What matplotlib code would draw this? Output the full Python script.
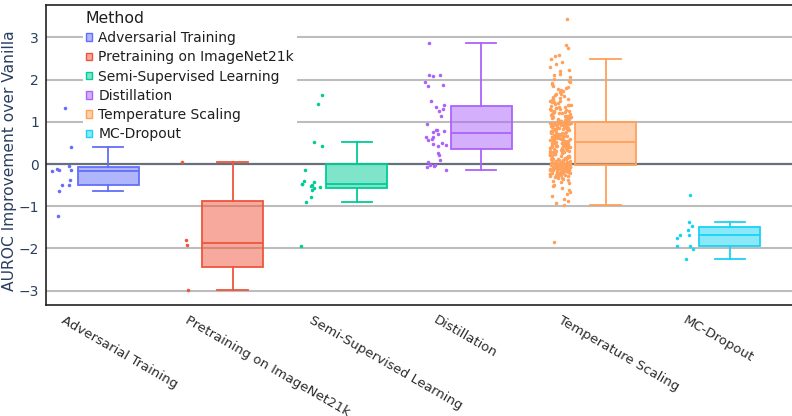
import numpy as np
import matplotlib
matplotlib.use("Agg")
import matplotlib.pyplot as plt
from matplotlib.patches import Patch
from matplotlib.colors import to_rgba
from matplotlib.transforms import ScaledTranslation

methods = [
    "Adversarial Training",
    "Pretraining on ImageNet21k",
    "Semi-Supervised Learning",
    "Distillation",
    "Temperature Scaling",
    "MC-Dropout",
]
colors = ["#636EFA", "#EF553B", "#00CC96", "#AB63FA", "#FFA15A", "#19D3F3"]

adversarial_training = [1.32, 0.40, -0.04, -0.12, -0.13, -0.15, -0.17,
                        -0.38, -0.49, -0.49, -0.65, -1.24]
pretraining_in21k = [0.055, -1.81, -1.91, -2.99]
semi_supervised = [1.63, 1.42, 0.52, 0.43, -0.13, -0.40, -0.43, -0.47, -0.47,
                   -0.49, -0.52, -0.54, -0.56, -0.61, -0.79, -0.89, -1.94]
distillation = [2.86, 2.12, 2.10, 2.09, 1.95, 1.88, 1.85, 1.49, 1.41, 1.35,
                1.30, 1.26, 1.14, 0.94, 0.80, 0.80, 0.79, 0.76, 0.72, 0.65,
                0.63, 0.59, 0.58, 0.49, 0.48, 0.45, 0.44, 0.26, 0.21, 0.09,
                0.05, -0.02, -0.02, -0.04, -0.06, -0.15]
temperature_scaling = [
    -1.84, -0.96, -0.93, -0.88, -0.82, -0.76, -0.71, -0.66, -0.61, -0.57,
    -0.53, -0.49, -0.46, -0.43, -0.41, -0.38, -0.36, -0.34, -0.33, -0.31,
    -0.30, -0.29, -0.28, -0.27, -0.26, -0.26, -0.25, -0.24, -0.23, -0.23,
    -0.22, -0.21, -0.21, -0.20, -0.19, -0.19, -0.18, -0.18, -0.17, -0.17,
    -0.16, -0.16, -0.15, -0.15, -0.14, -0.14, -0.13, -0.13, -0.12, -0.12,
    -0.11, -0.11, -0.11, -0.10, -0.10, -0.10, -0.09, -0.09, -0.09, -0.08,
    -0.08, -0.08, -0.07, -0.07, -0.07, -0.06, -0.06, -0.06, -0.05, -0.05,
    -0.05, -0.05, -0.04, -0.04, -0.04, -0.04, -0.03, -0.03, -0.03, -0.03,
    -0.03, -0.02, -0.02, -0.01, -0.01, 0.00, 0.00, 0.01, 0.01, 0.02,
    0.02, 0.03, 0.03, 0.04, 0.04, 0.05, 0.05, 0.06, 0.07, 0.07,
    0.08, 0.09, 0.09, 0.10, 0.11, 0.12, 0.12, 0.13, 0.14, 0.15,
    0.16, 0.16, 0.17, 0.18, 0.19, 0.20, 0.21, 0.21, 0.22, 0.23,
    0.24, 0.25, 0.26, 0.27, 0.27, 0.28, 0.29, 0.30, 0.31, 0.32,
    0.33, 0.33, 0.34, 0.35, 0.36, 0.37, 0.38, 0.39, 0.40, 0.40,
    0.41, 0.42, 0.43, 0.43, 0.44, 0.45, 0.45, 0.46, 0.47, 0.47,
    0.48, 0.48, 0.49, 0.49, 0.50, 0.50, 0.51, 0.51, 0.51, 0.52,
    0.52, 0.53, 0.54, 0.55, 0.55, 0.56, 0.57, 0.58, 0.58, 0.59,
    0.60, 0.61, 0.61, 0.62, 0.63, 0.64, 0.64, 0.65, 0.66, 0.67,
    0.67, 0.68, 0.69, 0.70, 0.70, 0.71, 0.72, 0.73, 0.73, 0.74,
    0.75, 0.76, 0.76, 0.77, 0.78, 0.79, 0.79, 0.80, 0.81, 0.82,
    0.82, 0.83, 0.84, 0.85, 0.85, 0.86, 0.87, 0.87, 0.88, 0.89,
    0.89, 0.90, 0.91, 0.91, 0.92, 0.93, 0.93, 0.94, 0.94, 0.95,
    0.95, 0.95, 0.96, 0.96, 0.96, 0.97, 0.97, 0.97, 0.97, 0.98,
    0.98, 0.98, 0.98, 0.98, 0.98, 0.98, 0.98, 0.98, 0.98, 0.98,
    1.00, 1.01, 1.02, 1.03, 1.04, 1.05, 1.06, 1.07, 1.08, 1.09,
    1.10, 1.11, 1.12, 1.13, 1.14, 1.15, 1.16, 1.17, 1.18, 1.19,
    1.20, 1.21, 1.22, 1.23, 1.24, 1.25, 1.26, 1.27, 1.28, 1.30,
    1.31, 1.32, 1.33, 1.35, 1.36, 1.37, 1.39, 1.40, 1.41, 1.43,
    1.44, 1.46, 1.47, 1.49, 1.50, 1.52, 1.54, 1.55, 1.57, 1.59,
    1.61, 1.63, 1.65, 1.67, 1.70, 1.72, 1.75, 1.78, 1.80, 1.83,
    1.86, 1.89, 1.92, 1.95, 1.98, 2.02, 2.06, 2.10, 2.14, 2.20,
    2.24, 2.30, 2.36, 2.43, 2.50, 2.57, 2.59, 2.75, 2.83, 3.43,
]
mc_dropout = [-0.74, -1.37, -1.47, -1.56, -1.67, -1.67, -1.75, -1.94,
              -1.95, -2.01, -2.25]

y_ticks = [-3, -2, -1, 0, 1, 2, 3]
y_label = "AUROC Improvement over Vanilla"
legend_title = "Method"

series = [adversarial_training, pretraining_in21k, semi_supervised,
          distillation, temperature_scaling, mc_dropout]

TEXT = "#2a3f5f"


def box_stats(values):
    v = np.sort(np.asarray(values, dtype=float))
    q1, med, q3 = np.percentile(v, [25, 50, 75], method="hazen")
    iqr = q3 - q1
    lo_fence, hi_fence = q1 - 1.5 * iqr, q3 + 1.5 * iqr
    whislo = v[v >= lo_fence].min()
    whishi = v[v <= hi_fence].max()
    return dict(q1=q1, med=med, q3=q3, whislo=whislo, whishi=whishi,
                fliers=np.array([]))


fig = plt.figure(figsize=(7.92, 4.16), dpi=100)
ax = fig.add_axes([46 / 792, 1 - 305 / 416, 746 / 792, 300 / 416])

ax.set_xlim(-0.5, 5.5)
ax.set_ylim(-3.34, 3.77)

# horizontal grid + emphasised zero line
for t in y_ticks:
    if t == 0:
        ax.axhline(0, color="#66707f", lw=1.6, zorder=0.6)
    else:
        ax.axhline(t, color="#bdbdbd", lw=1.5, zorder=0.5)

rng = np.random.default_rng(7)
box_w = 0.49
for i, (vals, c) in enumerate(zip(series, colors)):
    st = box_stats(vals)
    ax.bxp([st], positions=[i], widths=box_w, patch_artist=True,
           showfliers=False,
           boxprops=dict(facecolor=to_rgba(c, 0.5), edgecolor=c, linewidth=1.3),
           medianprops=dict(color=c, linewidth=1.3),
           whiskerprops=dict(color=c, linewidth=1.3),
           capprops=dict(color=c, linewidth=1.3),
           zorder=2)
    xs = i - 0.365 + rng.uniform(-0.085, 0.085, len(vals))
    ax.scatter(xs, vals, s=6.5, color=c, linewidths=0, zorder=3)

ax.set_yticks(y_ticks)
ax.tick_params(axis="y", length=0, pad=5, labelsize=10, labelcolor=TEXT)
ax.set_ylabel(y_label, fontsize=11.2, color=TEXT)
ax.yaxis.set_label_coords(-0.0385, 0.48)

ax.set_xticks(range(len(methods)))
ax.set_xticklabels(methods, rotation=-30, ha="left", va="top",
                   rotation_mode="anchor", fontsize=9.5, color="#2b2b2b")
ax.tick_params(axis="x", length=0, pad=6)
shift = ScaledTranslation(-43 / 100, 0, fig.dpi_scale_trans)
for lbl in ax.get_xticklabels():
    lbl.set_transform(lbl.get_transform() + shift)

for side in ("left", "top", "bottom"):
    ax.spines[side].set_color("#222222")
    ax.spines[side].set_linewidth(1.2)
ax.spines["right"].set_visible(False)

handles = [Patch(facecolor=to_rgba(c, 0.5), edgecolor=c, linewidth=1.0)
           for c in colors]
leg = ax.legend(handles, methods, title=legend_title, loc="upper left",
                bbox_to_anchor=(0.0496, 0.99), borderaxespad=0,
                fontsize=10, title_fontsize=11.3, frameon=True,
                fancybox=False, framealpha=1, edgecolor="none",
                handlelength=0.45, handleheight=0.45, handletextpad=0.45,
                labelspacing=0.38, borderpad=0.2, alignment="left")
for t in leg.get_texts():
    t.set_color("#1e1e1e")
leg.get_title().set_color("#1e1e1e")
leg.set_zorder(5)

fig.savefig("out.png", dpi=100, facecolor="white")
